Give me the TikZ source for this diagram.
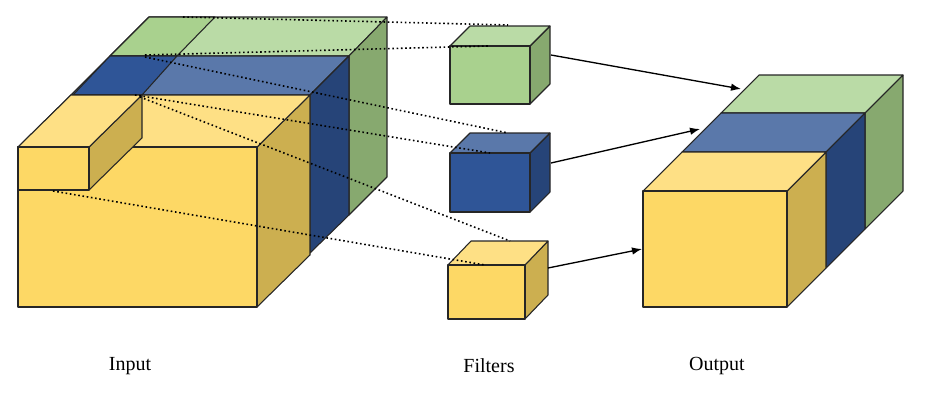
\documentclass[tikz,border=0pt]{standalone}
\usepackage{fontspec}
\setmainfont{Liberation Serif}
\usetikzlibrary{arrows.meta}

\definecolor{yfront}{HTML}{FDD865}
\definecolor{ytop}{HTML}{FEE085}
\definecolor{yside}{HTML}{CCAF50}
\definecolor{bfront}{HTML}{2F5597}
\definecolor{btop}{HTML}{5A78AA}
\definecolor{bside}{HTML}{264478}
\definecolor{gfront}{HTML}{A9D18E}
\definecolor{gtop}{HTML}{BADBA6}
\definecolor{gside}{HTML}{87A96F}

% box: x y (front top-left), width w, height h, depth dx dy, three colours
\newcommand{\blockbox}[9]{%
  \filldraw[face, fill=#9] (#1+#3,#2) -- ++(#5,-#6) -- ++(0,#4) -- ++(-#5,#6) -- cycle;
  \filldraw[face, fill=#8] (#1,#2) -- ++(#5,-#6) -- ++(#3,0) -- ++(-#5,#6) -- cycle;
  \filldraw[face, fill=#7] (#1,#2) rectangle ++(#3,#4);
}

\begin{document}
\begin{tikzpicture}[
    x=0.75pt, y=-0.75pt,
    face/.style={draw=black!85, line width=0.8pt, line join=round},
    link/.style={dotted, line width=1.2pt},
    arrow/.style={-Latex, line width=1pt},
    label/.style={font=\fontsize{15}{18}\selectfont}
]
\useasboundingbox (0,0) rectangle (926,407);

% Input: green layer
\filldraw[face, fill=gtop] (110,56) -- (149,17) -- (387,17) -- (349,56) -- cycle;
\filldraw[face, fill=gside] (349,56) -- (387,17) -- (387,177) -- (349,215) -- cycle;
\filldraw[face, fill=gfront] (110,56) -- (149,17) -- (215,17) -- (177,56) -- cycle;
% Input: blue layer
\filldraw[face, fill=btop] (71,95) -- (110,56) -- (349,56) -- (310,95) -- cycle;
\filldraw[face, fill=bside] (310,95) -- (349,56) -- (349,215) -- (310,253) -- cycle;
\filldraw[face, fill=bfront] (73,95) -- (110,56) -- (177,56) -- (142,95) -- cycle;
% Input: yellow layer
\blockbox{18}{147}{239}{160}{53}{52}{yfront}{ytop}{yside}
\blockbox{18}{147}{71}{43}{53}{52}{yfront}{ytop}{yside}

% Filters
\blockbox{450}{46}{80}{58}{20}{20}{gfront}{gtop}{gside}
\blockbox{450}{153}{80}{59}{20}{20}{bfront}{btop}{bside}
\blockbox{448}{265}{77}{54}{23}{24}{yfront}{ytop}{yside}

% Output
\filldraw[face, fill=gtop] (721,113) -- (759,75) -- (903,75) -- (865,113) -- cycle;
\filldraw[face, fill=gside] (865,113) -- (903,75) -- (903,191) -- (865,229) -- cycle;
\filldraw[face, fill=btop] (682,152) -- (721,113) -- (865,113) -- (826,152) -- cycle;
\filldraw[face, fill=bside] (826,152) -- (865,113) -- (865,229) -- (826,268) -- cycle;
\blockbox{643}{191}{144}{116}{39}{39}{yfront}{ytop}{yside}

% Anchor points
\coordinate (inG1) at (183,17);
\coordinate (inG2) at (145,55);
\coordinate (inB1) at (145,57);
\coordinate (inB2) at (135,95);
\coordinate (inY1) at (140,97);
\coordinate (inY2) at (53,191);
\coordinate (fG1) at (508,25);
\coordinate (fG2) at (488,46);
\coordinate (fB1) at (508,133);
\coordinate (fB2) at (490,153);
\coordinate (fY1) at (510,241);
\coordinate (fY2) at (485,265);
\coordinate (fGout) at (551,55);
\coordinate (fBout) at (551,163);
\coordinate (fYout) at (548,268);
\coordinate (outG) at (741,89);
\coordinate (outB) at (700,129);
\coordinate (outY) at (642,249);

% Dotted links
\draw[link] (inG1) -- (fG1);
\draw[link] (inG2) -- (fG2);
\draw[link] (inB1) -- (fB1);
\draw[link] (inB2) -- (fB2);
\draw[link] (inY1) -- (fY1);
\draw[link] (inY2) -- (fY2);

% Arrows
\draw[arrow] (fGout) -- (outG);
\draw[arrow] (fBout) -- (outB);
\draw[arrow] (fYout) -- (outY);

% Labels
\node[label] (input) at (130,366) {Input};
\node[label] (filters) at (489,366) {Filters};
\node[label] (output) at (717,366) {Output};
\end{tikzpicture}
\end{document}
